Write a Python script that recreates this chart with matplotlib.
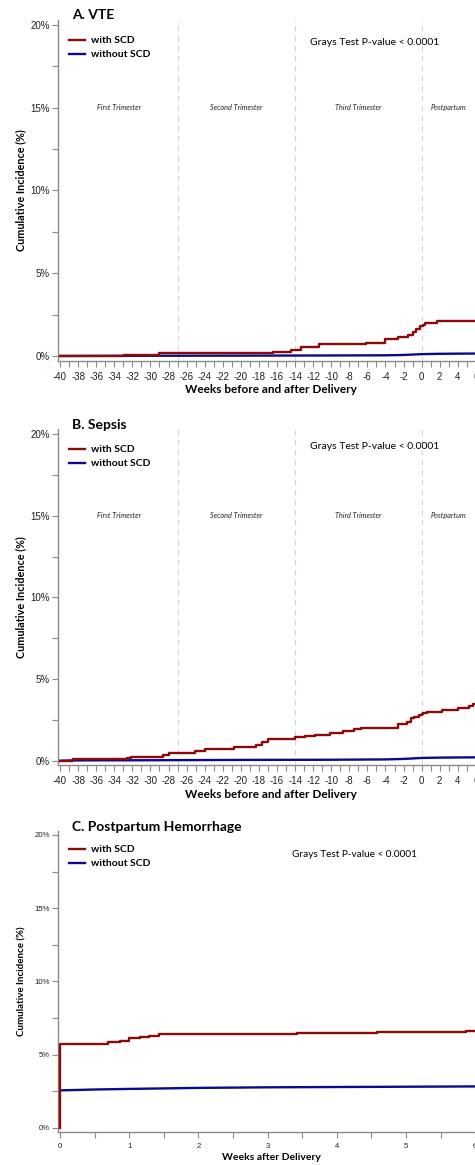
import matplotlib
matplotlib.use("Agg")
import matplotlib.pyplot as plt
from matplotlib.ticker import MultipleLocator, FuncFormatter

plt.rcParams['axes.unicode_minus'] = False

# ---------------- data ----------------
# Panel A: VTE (weeks relative to delivery, cumulative incidence %)
vte_scd_x = [-40, -32.9, -29.0, -16.4, -14.5, -13.3, -11.3, -6.1, -4.05, -2.6, -1.5,
             -1.0, -0.6, -0.2, 0.1, 0.4, 1.7, 7]
vte_scd_y = [0.0, 0.06, 0.16, 0.26, 0.34, 0.56, 0.70, 0.78, 1.03, 1.17, 1.27,
             1.45, 1.65, 1.80, 1.90, 1.98, 2.14, 2.14]
vte_noscd_x = [-40, -33, -20, -10, -4, -2, 0, 2, 4, 7]
vte_noscd_y = [0.0, 0.01, 0.02, 0.03, 0.04, 0.06, 0.11, 0.13, 0.14, 0.15]

# Panel B: Sepsis
sep_scd_x = [-40, -38.6, -32.6, -32.1, -28.6, -28.0, -25.1, -24.0, -20.8, -18.3, -17.7,
             -17.0, -14.0, -12.9, -11.8, -10.1, -8.7, -7.5, -6.7, -2.6, -1.65, -1.2,
             -0.8, -0.3, 0.0, 0.2, 0.55, 2.3, 4.05, 5.2, 5.7, 7]
sep_scd_y = [0.0, 0.10, 0.18, 0.25, 0.33, 0.49, 0.62, 0.72, 0.86, 0.96, 1.17,
             1.35, 1.44, 1.52, 1.60, 1.68, 1.84, 1.93, 1.99, 2.24, 2.40, 2.61,
             2.70, 2.78, 2.85, 2.90, 3.01, 3.10, 3.24, 3.36, 3.47, 3.55]
sep_noscd_x = [-40, -38.6, -30, -20, -10, -4, -2, 0, 2, 4, 7]
sep_noscd_y = [0.0, 0.02, 0.03, 0.05, 0.06, 0.08, 0.11, 0.17, 0.19, 0.20, 0.21]

# Panel C: Postpartum Hemorrhage (weeks after delivery)
pph_scd_x = [0, 0, 0.70, 0.86, 1.00, 1.15, 1.29, 1.43, 3.43, 4.58, 5.87, 6.2]
pph_scd_y = [0.0, 5.69, 5.83, 5.94, 6.10, 6.17, 6.26, 6.40, 6.47, 6.54, 6.63, 6.63]
pph_noscd_x = [0, 0.5, 1, 2, 3, 4, 5, 6, 6.2]
pph_noscd_y = [2.55, 2.61, 2.65, 2.72, 2.76, 2.78, 2.80, 2.82, 2.83]

titles = ["A. VTE", "B. Sepsis", "C. Postpartum Hemorrhage"]
legend_labels = ["with SCD", "without SCD"]
trimester_labels = ["First Trimester", "Second Trimester", "Third Trimester", "Postpartum"]
trimester_centers = [-33.5, -20.5, -7, 3]
trimester_bounds = [-27, -14, 0]
pvalue_text = "Grays Test P-value < 0.0001"
ylabel = "Cumulative Incidence (%)"
xlabel_ab = "Weeks before and after Delivery"
xlabel_c = "Weeks after Delivery"

RED = "#8B0A0A"
BLUE = "#0A0A8B"
AXC = "#8a8a8a"

W, H = 475, 1165
fig = plt.figure(figsize=(W / 100, H / 100), dpi=100)

def add_axes(left, right, top, bottom):
    return fig.add_axes([left / W, 1 - bottom / H, (right - left) / W, (bottom - top) / H])

def style(ax, small=False):
    for s in ["top", "right"]:
        ax.spines[s].set_visible(False)
    for s in ["left", "bottom"]:
        ax.spines[s].set_color(AXC)
        ax.spines[s].set_linewidth(1.0)
    ax.set_ylim(-0.28, 20.3)
    ax.yaxis.set_major_locator(MultipleLocator(5))
    ax.yaxis.set_minor_locator(MultipleLocator(2.5))
    ax.yaxis.set_major_formatter(FuncFormatter(lambda v, p: f"{v:.0f}%"))
    fs = 5.6 if small else 7.0
    ax.tick_params(axis="both", which="both", colors=AXC, labelcolor="#222222",
                   labelsize=fs, length=4, width=0.8)
    ax.tick_params(axis="y", pad=1.5)
    ax.tick_params(axis="x", pad=4)
    for lab in ax.get_xticklabels() + ax.get_yticklabels():
        lab.set_family("Liberation Sans")

def finish(ax, title, ty, ly1):
    fig.text(72 / W, 1 - ty / H, title, fontsize=10,
             fontweight="bold", family="Lato", va="center", ha="left")
    ax.legend(loc="upper left", bbox_to_anchor=(69 / W, 1 - (ly1 - 3) / H),
              bbox_transform=fig.transFigure, frameon=False,
              prop={"family": "Lato", "weight": "bold", "size": 7.5},
              handlelength=1.5, handletextpad=0.6, labelspacing=0.45,
              borderpad=0.0, borderaxespad=0)

def panel_ab(ax, sx, sy, nx, ny, title, ty, ly1, pv_y):
    ax.step(sx, sy, where="post", color=RED, lw=1.7, label=legend_labels[0], zorder=3)
    ax.plot(nx, ny, color=BLUE, lw=1.7, label=legend_labels[1], zorder=2)
    ax.set_xlim(-40.28, 7)
    ax.xaxis.set_major_locator(MultipleLocator(2))
    ax.xaxis.set_minor_locator(MultipleLocator(1))
    style(ax)
    for b in trimester_bounds:
        ax.axvline(b, color="#d6d6d6", lw=0.8, ls=(0, (5, 4)), zorder=1)
    for c, t in zip(trimester_centers, trimester_labels):
        ax.text(c, 15, t, fontsize=5.2, style="italic", family="Lato",
                ha="center", va="center", color="#222222")
    ax.text(-5.2, pv_y, pvalue_text, fontsize=7.5, family="Lato", ha="center", va="center")
    ax.set_xlabel(xlabel_ab, fontsize=8.5, fontweight="bold", family="Lato", labelpad=2)
    ax.set_ylabel(ylabel, fontsize=7.8, fontweight="bold", family="Lato", labelpad=3)
    finish(ax, title, ty, ly1)

# Panel A
axA = add_axes(57.5, 484.9, 20.0, 360.6)
panel_ab(axA, vte_scd_x, vte_scd_y, vte_noscd_x, vte_noscd_y, titles[0], 15, 39, 18.95)

# Panel B
axB = add_axes(57.5, 484.9, 429.1, 765.3)
panel_ab(axB, sep_scd_x, sep_scd_y, sep_noscd_x, sep_noscd_y, titles[1], 425, 448, 19.25)

# Panel C
axC = add_axes(57.5, 484.9, 830.6, 1131.8)
axC.step(pph_scd_x, pph_scd_y, where="post", color=RED, lw=1.7, label=legend_labels[0], zorder=3)
axC.plot(pph_noscd_x, pph_noscd_y, color=BLUE, lw=1.7, label=legend_labels[1], zorder=2)
axC.set_xlim(-0.036, 6.14)
axC.xaxis.set_major_locator(MultipleLocator(1))
axC.xaxis.set_minor_locator(MultipleLocator(0.5))
style(axC, small=True)
axC.text(4.25, 18.7, pvalue_text, fontsize=7.2, family="Lato", ha="center", va="center")
axC.set_xlabel(xlabel_c, fontsize=7.5, fontweight="bold", family="Lato", labelpad=2)
axC.set_ylabel(ylabel, fontsize=7, fontweight="bold", family="Lato", labelpad=6)
finish(axC, titles[2], 827, 848)

fig.savefig("out.png", dpi=100)
